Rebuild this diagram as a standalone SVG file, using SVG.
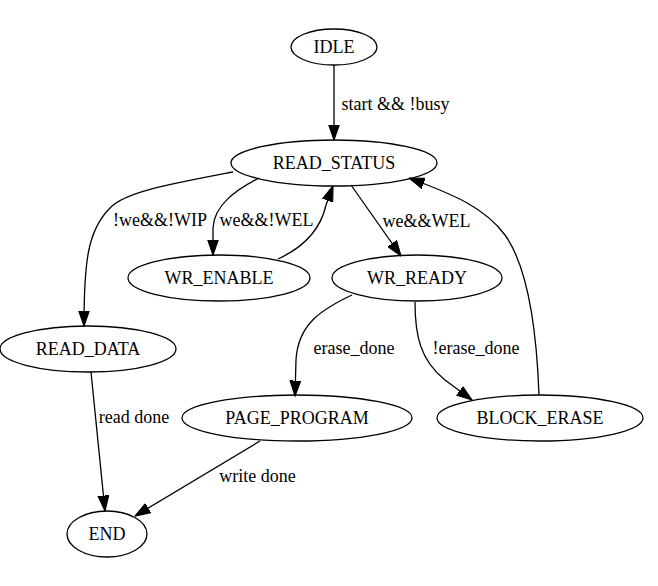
<svg xmlns="http://www.w3.org/2000/svg" width="658" height="586" viewBox="0 0 658 586" font-family="Liberation Serif, Times New Roman, serif">
<style>
text{font-family:'Liberation Serif',serif;font-size:18px;fill:#000;text-anchor:middle}
.node ellipse{fill:none;stroke:#000;stroke-width:1.3}
.edges path{fill:none;stroke:#000;stroke-width:1.3;marker-end:url(#arr)}
</style>
<defs>
<marker id="arr" markerUnits="userSpaceOnUse" markerWidth="16" markerHeight="12" refX="13.5" refY="5" orient="auto" viewBox="0 0 14 10">
<path d="M0,0.3 L13.5,5 L0,9.7 z" fill="#000" stroke="#000" stroke-width="1"/>
</marker>
</defs>
<rect width="658" height="586" fill="#fff"/>
<g class="edges" id="edges">
<path d="M334,65 L334,140"/>
<path d="M233,172 C170,184 125,192 110,208 C88,230 84,260 84,326"/>
<path d="M259,178 C236,190 214,205 213,228 L213,255"/>
<path d="M278,259 C302,248 320,232 326,205 L333,186"/>
<path d="M351,185 L401,256"/>
<path d="M539,395 C537,340 530,270 505,235 C485,208 455,195 409,178"/>
<path d="M352,295 C320,310 298,325 296,360 L295,396"/>
<path d="M415,302 C415,335 420,360 445,380 L472,400"/>
<path d="M91,372 L105,511"/>
<path d="M260,441 L135,516"/>
<text x="395.5" y="110">start &amp;&amp; !busy</text>
<text x="160" y="226">!we&amp;&amp;!WIP</text>
<text x="266.5" y="226">we&amp;&amp;!WEL</text>
<text x="426.5" y="227">we&amp;&amp;WEL</text>
<text x="354" y="354">erase_done</text>
<text x="476" y="354">!erase_done</text>
<text x="134" y="423">read done</text>
<text x="257.5" y="482">write done</text>
</g>
<g class="node" id="IDLE"><ellipse cx="334" cy="47" rx="43" ry="18"/><text x="334" y="53">IDLE</text></g>
<g class="node" id="READ_STATUS"><ellipse cx="334" cy="163" rx="103" ry="23"/><text x="334" y="169">READ_STATUS</text></g>
<g class="node" id="WR_ENABLE"><ellipse cx="219" cy="278" rx="91" ry="23"/><text x="219" y="284">WR_ENABLE</text></g>
<g class="node" id="WR_READY"><ellipse cx="417" cy="278" rx="85" ry="23"/><text x="417" y="284">WR_READY</text></g>
<g class="node" id="READ_DATA"><ellipse cx="88" cy="349" rx="88" ry="23"/><text x="88" y="355">READ_DATA</text></g>
<g class="node" id="PAGE_PROGRAM"><ellipse cx="297" cy="418" rx="115" ry="23"/><text x="297" y="424">PAGE_PROGRAM</text></g>
<g class="node" id="BLOCK_ERASE"><ellipse cx="540" cy="418" rx="103" ry="23"/><text x="540" y="424">BLOCK_ERASE</text></g>
<g class="node" id="END"><ellipse cx="107" cy="534" rx="40" ry="23"/><text x="107" y="540">END</text></g>
</svg>
